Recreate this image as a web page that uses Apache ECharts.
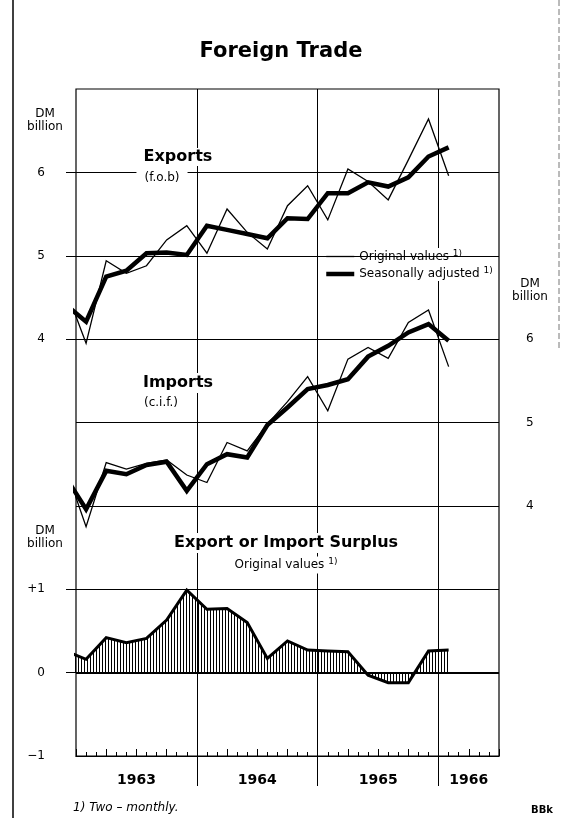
<!DOCTYPE html>
<html>
<head>
<meta charset="utf-8">
<title>Foreign Trade</title>
<script src="https://cdn.jsdelivr.net/npm/echarts@6.0.0/dist/echarts.min.js"></script>
<style>
  html, body { margin: 0; padding: 0; background: #fff; }
  #chart { width: 562px; height: 818px; }
</style>
</head>
<body>
<div id="chart"></div>
<script>
// two-monthly values, DM billion; first period (Nov/Dec 1962) sits left of the axis and is clipped
const periods = ['Nov-Dec 62', 'Jan-Feb 63', 'Mar-Apr 63', 'May-Jun 63', 'Jul-Aug 63', 'Sep-Oct 63',
  'Nov-Dec 63', 'Jan-Feb 64', 'Mar-Apr 64', 'May-Jun 64', 'Jul-Aug 64', 'Sep-Oct 64', 'Nov-Dec 64',
  'Jan-Feb 65', 'Mar-Apr 65', 'May-Jun 65', 'Jul-Aug 65', 'Sep-Oct 65', 'Nov-Dec 65', 'Jan-Feb 66']
const exportsOriginal = [4.59, 3.95, 4.94, 4.79, 4.88, 5.19, 5.36, 5.03, 5.56, 5.28, 5.08, 5.60, 5.84, 5.43, 6.04, 5.89, 5.67, 6.15, 6.64, 5.96]
const exportsAdjusted = [4.41, 4.21, 4.75, 4.82, 5.03, 5.04, 5.01, 5.36, 5.31, 5.26, 5.21, 5.45, 5.44, 5.75, 5.75, 5.88, 5.83, 5.94, 6.19, 6.30]
const importsOriginal = [4.45, 3.75, 4.52, 4.44, 4.51, 4.55, 4.37, 4.28, 4.76, 4.66, 4.98, 5.25, 5.55, 5.14, 5.76, 5.90, 5.77, 6.20, 6.35, 5.67]
const importsAdjusted = [4.34, 3.96, 4.42, 4.38, 4.49, 4.53, 4.18, 4.50, 4.62, 4.58, 4.97, 5.18, 5.40, 5.45, 5.52, 5.79, 5.92, 6.08, 6.18, 5.98]
const surplus = [0.26, 0.16, 0.42, 0.36, 0.41, 0.63, 0.99, 0.76, 0.77, 0.60, 0.17, 0.38, 0.27, 0.26, 0.25, -0.03, -0.12, -0.12, 0.26, 0.27]

const years = ['1963', '1964', '1965', '1966']
const exportTicks = [4, 5, 6]
const importTicks = [4, 5, 6]
const surplusTicks = [-1, 0, 1]

const FONT = 'DejaVu Sans'
const totalMonths = 42 // Jan 1963 .. Jun 1966
const THIN = 1.3
const THICK = 4.5

// x in months from Jan 1963, each point at the middle of its two-month period
const toPoints = values => values.map((v, i) => [2 * i - 1, v])
const yearMid = years.map((y, i) => (12 * i + Math.min(12 * i + 12, totalMonths)) / 2)

// vertical hatching for the surplus area
const hatch = document.createElement('canvas')
hatch.width = 3
hatch.height = 4
const hctx = hatch.getContext('2d')
hctx.fillStyle = '#000'
hctx.fillRect(0, 0, 1, 4)

const gridLine = (axisValues, width) => ({
  silent: true,
  symbol: ['none', 'none'],
  label: { show: false },
  animation: false,
  lineStyle: { color: '#000', width: width || 1, type: 'solid' },
  data: axisValues.map(v => ({ yAxis: v }))
})

const lineSeries = (name, values, yAxisIndex, width, extra) => Object.assign({
  name,
  type: 'line',
  xAxisIndex: 0,
  yAxisIndex,
  data: toPoints(values),
  symbol: 'none',
  clip: true,
  animation: false,
  lineStyle: { color: '#000', width, join: 'miter' },
  itemStyle: { color: '#000' }
}, extra)

const text = (str, x, y, style) => ({
  type: 'text',
  z: 100,
  style: Object.assign({
    text: str, x, y, fill: '#000', fontFamily: FONT, fontSize: 12,
    align: 'center', verticalAlign: 'middle'
  }, style)
})

const supRich = { sup: { fontSize: 9, fontFamily: FONT, verticalAlign: 'top', padding: [0, 0, 6, 0] } }

const chart = echarts.init(document.getElementById('chart'))
chart.setOption({
  backgroundColor: '#fff',
  animation: false,
  title: {
    text: 'Foreign Trade',
    left: 'center',
    top: 36,
    textStyle: { fontFamily: FONT, fontSize: 21, fontWeight: 'bold', color: '#000' }
  },
  legend: {
    data: [
      { name: 'Original values', lineStyle: { width: THIN, color: '#000' } },
      { name: 'Seasonally adjusted', lineStyle: { width: THICK, color: '#000' } }
    ],
    orient: 'vertical',
    left: 322,
    top: 248,
    itemWidth: 28,
    itemHeight: 12,
    itemGap: 4,
    padding: [1, 4, 1, 2],
    backgroundColor: '#fff',
    selectedMode: false,
    itemStyle: { opacity: 0, borderWidth: 0 },
    formatter: name => name + ' {sup|1)}',
    textStyle: { fontFamily: FONT, fontSize: 12, color: '#000', rich: supRich }
  },
  grid: {
    left: 76, right: 63, top: 89, bottom: 62,
    show: true, borderColor: '#000', borderWidth: 1.2,
    outerBoundsMode: 'none'
  },
  xAxis: [
    {
      type: 'value', min: 0, max: totalMonths, interval: 3, position: 'bottom',
      axisLine: { show: true, onZero: false, lineStyle: { color: '#000', width: 1.2 } },
      axisTick: { show: true, inside: true, length: 7, lineStyle: { color: '#000' } },
      minorTick: { show: true, splitNumber: 3, length: 4, lineStyle: { color: '#000' } },
      axisLabel: { show: false },
      splitLine: { show: false }
    },
    {
      type: 'value', min: 0, max: totalMonths, interval: 12, position: 'bottom',
      axisLine: { show: false, onZero: false },
      axisTick: { show: true, inside: false, length: 30, customValues: [12, 24, 36], lineStyle: { color: '#000' } },
      axisLabel: {
        customValues: yearMid,
        formatter: v => years[yearMid.indexOf(v)],
        margin: 17,
        fontFamily: FONT, fontSize: 14, fontWeight: 'bold', color: '#000'
      },
      splitLine: { show: true, lineStyle: { color: '#000', width: 1 } }
    }
  ],
  yAxis: [
    {
      type: 'value', position: 'left', min: -1, max: 7, interval: 1,
      axisLine: { show: false },
      axisTick: { show: true, customValues: exportTicks, length: 10, lineStyle: { color: '#000' } },
      axisLabel: { customValues: exportTicks, margin: 31, fontFamily: FONT, fontSize: 12, color: '#000' },
      splitLine: { show: false }
    },
    {
      type: 'value', position: 'right', min: 1, max: 9, interval: 1,
      axisLine: { show: false },
      axisTick: { show: true, customValues: importTicks, length: 11, lineStyle: { color: '#000' } },
      axisLabel: { customValues: importTicks, margin: 27, fontFamily: FONT, fontSize: 12, color: '#000' },
      splitLine: { show: false }
    },
    {
      type: 'value', position: 'left', min: -1, max: 7, interval: 1,
      axisLine: { show: false },
      axisTick: { show: true, customValues: [0, 1], length: 10, lineStyle: { color: '#000' } },
      axisLabel: {
        customValues: surplusTicks, margin: 31, fontFamily: FONT, fontSize: 12, color: '#000',
        formatter: v => (v > 0 ? '+' + v : v < 0 ? '\u2212' + Math.abs(v) : '0')
      },
      splitLine: { show: false }
    }
  ],
  series: [
    lineSeries('Seasonally adjusted', exportsAdjusted, 0, THICK, { markLine: gridLine(exportTicks) }),
    lineSeries('Original values', exportsOriginal, 0, THIN),
    lineSeries('Seasonally adjusted', importsAdjusted, 1, THICK, { markLine: gridLine([4, 5]) }),
    lineSeries('Original values', importsOriginal, 1, THIN),
    lineSeries('Surplus', surplus, 2, 3, {
      areaStyle: { color: { image: hatch, repeat: 'repeat' }, opacity: 1, origin: 0 },
      markLine: { ...gridLine([1]), data: [{ yAxis: 1, lineStyle: { width: 1 } }, { yAxis: 0, lineStyle: { width: 2 } }] }
    })
  ],
  graphic: [
    { type: 'line', z: 100, shape: { x1: 13, y1: 0, x2: 13, y2: 818 }, style: { stroke: '#000', lineWidth: 1.5 } },
    { type: 'line', z: 100, shape: { x1: 559, y1: 0, x2: 559, y2: 350 }, style: { stroke: '#777', lineWidth: 1, lineDash: [6, 3] } },
    text('DM\nbillion', 45, 120, { lineHeight: 13 }),
    text('DM\nbillion', 530, 290, { lineHeight: 13 }),
    text('DM\nbillion', 45, 537, { lineHeight: 13 }),
    text('Exports', 178, 157, { fontSize: 16, fontWeight: 'bold', backgroundColor: '#fff', padding: [1, 3] }),
    text('(f.o.b)', 162, 178, { backgroundColor: '#fff', padding: [1, 8] }),
    text('Imports', 178, 383, { fontSize: 16, fontWeight: 'bold', backgroundColor: '#fff', padding: [2, 3] }),
    text('(c.i.f.)', 161, 403, { backgroundColor: '#fff', padding: [1, 3] }),
    text('Export or Import Surplus', 286, 543, { fontSize: 16, fontWeight: 'bold', backgroundColor: '#fff', padding: [2, 3] }),
    text('Original values {sup|1)}', 286, 565, { backgroundColor: '#fff', padding: [1, 3], rich: supRich }),
    text('1) Two \u2013 monthly.', 73, 808, { align: 'left', fontStyle: 'italic' }),
    text('BBk', 542, 810, { fontSize: 10, fontWeight: 'bold' })
  ]
})
</script>
</body>
</html>
